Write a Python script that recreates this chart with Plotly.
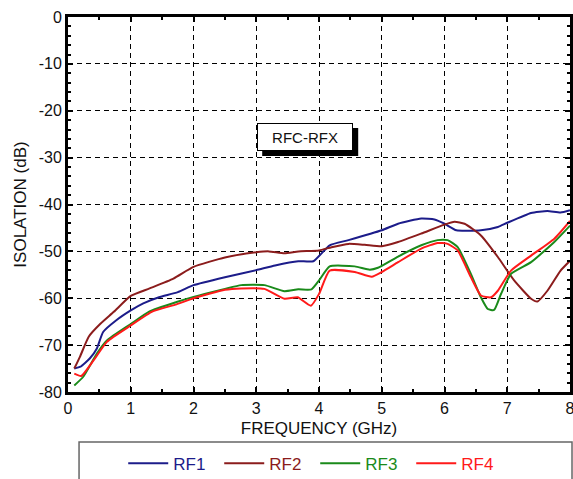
import plotly.graph_objects as go

rf1_x = [0.1, 0.2, 0.35, 0.46, 0.56, 0.77, 1.0, 1.2, 1.45, 1.75, 2.0, 2.5, 3.0, 3.3, 3.67, 3.91, 4.17, 4.47, 5.0, 5.26, 5.63, 5.84, 6.0, 6.19, 6.58, 6.85, 7.0, 7.38, 7.64, 7.85, 8.0]
rf1_y = [-75, -74.6, -72.8, -70.7, -67.2, -64.7, -62.6, -61.1, -59.8, -58.7, -57.2, -55.5, -54, -53, -52.1, -52.1, -48.7, -47.6, -45.5, -44.1, -43, -43.2, -44.1, -45.5, -45.5, -44.8, -43.9, -41.8, -41.4, -41.7, -41.2]

rf2_x = [0.1, 0.19, 0.33, 0.52, 0.73, 1.0, 1.3, 1.68, 2.0, 2.5, 3.0, 3.2, 3.45, 3.67, 4.0, 4.2, 4.47, 4.73, 5.0, 5.26, 5.63, 6.0, 6.16, 6.32, 6.58, 6.85, 7.11, 7.38, 7.48, 7.64, 7.85, 8.0]
rf2_y = [-75, -72.5, -68.2, -65.4, -62.9, -59.5, -57.9, -55.8, -53.3, -51.3, -50.2, -50, -50.4, -50, -49.8, -49.1, -48.4, -48.6, -48.9, -48, -46.2, -44.3, -43.7, -44.1, -46.6, -51.2, -56.2, -60.1, -60.7, -58.4, -54.1, -52]

rf3_x = [0.1, 0.24, 0.46, 0.62, 1.0, 1.3, 1.73, 2.0, 2.5, 2.76, 3.13, 3.45, 3.67, 3.88, 4.0, 4.17, 4.57, 4.81, 4.94, 5.26, 5.63, 5.89, 6.05, 6.21, 6.42, 6.58, 6.69, 6.79, 6.9, 7.06, 7.38, 7.75, 8.0]
rf3_y = [-78.6, -76.8, -71.8, -69, -65.5, -62.8, -60.8, -59.7, -58, -57.2, -57.2, -58.5, -58.1, -58.1, -56.2, -53.2, -53.2, -53.9, -53.5, -51.1, -48.7, -47.6, -47.6, -49.1, -54.8, -59.8, -62.3, -62.5, -59.1, -54.8, -52.3, -48, -44.5]

rf4_x = [0.1, 0.21, 0.41, 0.62, 1.0, 1.35, 1.73, 2.0, 2.5, 2.76, 3.13, 3.45, 3.66, 3.87, 4.0, 4.17, 4.57, 4.84, 5.0, 5.26, 5.63, 5.89, 6.05, 6.21, 6.42, 6.58, 6.74, 6.85, 7.06, 7.38, 7.75, 8.0]
rf4_y = [-76.1, -76.6, -73.2, -69.3, -65.8, -62.8, -61.3, -60, -58.2, -57.9, -58.0, -60.1, -59.8, -61.6, -59.1, -54.1, -54.4, -55.4, -54.4, -52.3, -49.4, -48.2, -48.4, -49.8, -55.5, -59.4, -59.8, -58.4, -54.1, -50.9, -47.3, -43.5]

names = ["RF1", "RF2", "RF3", "RF4"]
colors = ["#1c1c8a", "#8b1c1c", "#1a8a1a", "#ff1a1a"]
series = [(rf1_x, rf1_y), (rf2_x, rf2_y), (rf3_x, rf3_y), (rf4_x, rf4_y)]

x_ticks = [0, 1, 2, 3, 4, 5, 6, 7, 8]
y_ticks = [0, -10, -20, -30, -40, -50, -60, -70, -80]

label_text = "RFC-RFX"
label_x = 3.78
label_y = -25.6

FONT = "Liberation Sans, Arial, sans-serif"

fig = go.Figure()
for (xs, ys), n, c in zip(series, names, colors):
    fig.add_trace(go.Scatter(
        x=xs, y=ys, mode="lines", name=f"<span style='color:{c}'>{n}</span>",
        line=dict(color=c, width=2, shape="spline", smoothing=0.5),
    ))

fig.update_xaxes(
    range=[0, 8], tickvals=x_ticks, ticktext=[str(v) for v in x_ticks],
    ticklabeloverflow="allow",
    showline=True, linecolor="black", linewidth=3, mirror="ticks",
    ticks="inside", ticklen=5, tickwidth=1.5, tickcolor="black",
    minor=dict(dtick=0.5, ticks="inside", ticklen=3, tickcolor="black", showgrid=False),
    showgrid=True, gridcolor="black", gridwidth=1, griddash="5px,4px",
    zeroline=False,
    tickfont=dict(family=FONT, size=16, color="#111"),
    title=dict(text="FREQUENCY (GHz)", font=dict(family=FONT, size=17, color="#111"), standoff=6),
)
fig.update_yaxes(
    range=[-80, 0], tickvals=y_ticks, ticktext=[str(v) for v in y_ticks],
    ticklabeloverflow="allow",
    showline=True, linecolor="black", linewidth=3, mirror="ticks",
    ticks="inside", ticklen=5, tickwidth=1.5, tickcolor="black",
    minor=dict(dtick=2, ticks="inside", ticklen=3, tickcolor="black", showgrid=False),
    showgrid=True, gridcolor="black", gridwidth=1, griddash="5px,4px",
    zeroline=False,
    tickfont=dict(family=FONT, size=16, color="#111"),
    title=dict(text="ISOLATION (dB)", font=dict(family=FONT, size=17, color="#111"), standoff=8),
)

# Legend frame
fig.add_shape(type="rect", xref="paper", yref="paper", x0=0.022, x1=1.004, y0=-0.30, y1=-0.133,
              line=dict(color="#666", width=1.5), fillcolor="rgba(0,0,0,0)", layer="above")

# Shadow behind the label box (pixel-sized, anchored at the label position)
fig.add_shape(type="rect", xref="x", yref="y", xsizemode="pixel", ysizemode="pixel",
              xanchor=label_x, yanchor=label_y, x0=-43, x1=53, y0=-19, y1=9,
              line=dict(color="black", width=0), fillcolor="black", layer="above")
fig.add_annotation(x=label_x, y=label_y, text=label_text, showarrow=False,
                   font=dict(family=FONT, size=15, color="#111"), bgcolor="white",
                   bordercolor="black", borderwidth=1, borderpad=1, width=92, height=24)

fig.update_layout(
    width=573, height=479,
    margin=dict(l=68, r=3, t=17, b=87, autoexpand=False),
    paper_bgcolor="white", plot_bgcolor="white",
    showlegend=True,
    legend=dict(orientation="h", x=0.11, y=-0.143, xanchor="left", yanchor="top",
                font=dict(family=FONT, size=17), entrywidth=41, entrywidthmode="pixels",
                bgcolor="rgba(0,0,0,0)", itemwidth=40),
)

fig.write_html("out.html")
